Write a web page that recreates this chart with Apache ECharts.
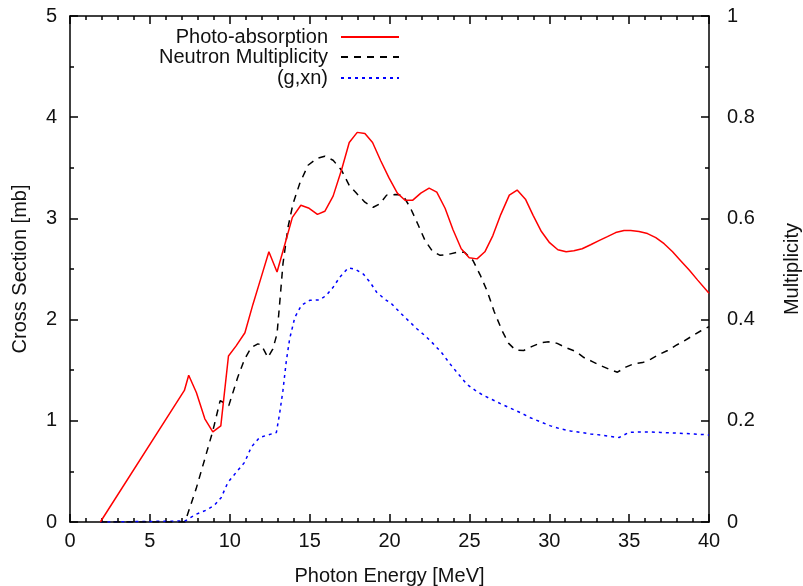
<!DOCTYPE html>
<html>
<head>
<meta charset="utf-8">
<title>Photon Energy Cross Sections</title>
<script src="https://cdn.jsdelivr.net/npm/echarts@6/dist/echarts.min.js"></script>
<style>
  html, body { margin: 0; padding: 0; background: #fff; }
  #chart { width: 803px; height: 586px; }
</style>
</head>
<body>
<div id="chart"></div>
<script>
// Photo-absorption cross section [mb] vs photon energy [MeV]
const photoE = [1.9, 7.16, 7.43, 7.91, 8.44, 8.94, 9.44, 9.92, 10.4, 10.95, 11.45, 11.97, 12.45, 12.96, 13.46, 13.92, 14.45, 14.97, 15.49, 15.95, 16.47, 17.0, 17.48, 17.98, 18.46, 18.94, 19.45, 19.97, 20.49, 20.97, 21.46, 21.96, 22.48, 22.96, 23.48, 23.97, 24.49, 24.99, 25.48, 25.97, 26.47, 26.97, 27.5, 27.99, 28.51, 28.99, 29.51, 30.02, 30.54, 31.06, 31.54, 32.06, 32.59, 33.11, 33.64, 34.16, 34.68, 35.1, 35.62, 36.15, 36.67, 37.19, 37.72, 38.24, 38.76, 39.29, 40.0];
const photoXS = [0.0, 1.30, 1.45, 1.28, 1.02, 0.89, 0.95, 1.64, 1.74, 1.87, 2.15, 2.42, 2.67, 2.47, 2.75, 3.01, 3.13, 3.10, 3.04, 3.07, 3.22, 3.48, 3.75, 3.85, 3.84, 3.75, 3.57, 3.40, 3.25, 3.18, 3.18, 3.25, 3.30, 3.26, 3.10, 2.89, 2.70, 2.61, 2.60, 2.67, 2.83, 3.04, 3.23, 3.28, 3.19, 3.03, 2.87, 2.76, 2.69, 2.67, 2.68, 2.70, 2.74, 2.78, 2.82, 2.86, 2.88, 2.88, 2.87, 2.85, 2.81, 2.75, 2.67, 2.58, 2.49, 2.39, 2.26];

// Neutron multiplicity (right axis)
const multE = [1.9, 7.2, 7.89, 8.46, 8.94, 9.4, 9.94, 10.5, 10.93, 11.35, 11.76, 11.97, 12.39, 12.7, 12.96, 13.12, 13.33, 13.65, 13.96, 14.38, 14.9, 15.43, 15.95, 16.47, 17.0, 17.48, 17.98, 18.46, 18.98, 19.4, 19.82, 20.35, 20.83, 21.29, 21.77, 22.23, 22.69, 23.17, 23.69, 24.22, 24.7, 25.22, 25.68, 26.13, 26.55, 27.05, 27.46, 27.88, 28.4, 28.93, 29.45, 29.97, 30.5, 31.02, 31.65, 32.17, 32.7, 33.22, 33.74, 34.27, 34.79, 35.31, 35.84, 36.36, 36.88, 37.41, 37.93, 38.45, 38.97, 39.5, 40.0];
const multiplicity = [0.0, 0.0, 0.065, 0.127, 0.18, 0.24, 0.23, 0.286, 0.322, 0.345, 0.352, 0.350, 0.325, 0.342, 0.372, 0.43, 0.51, 0.583, 0.629, 0.669, 0.705, 0.718, 0.723, 0.715, 0.695, 0.665, 0.648, 0.632, 0.622, 0.629, 0.646, 0.647, 0.646, 0.622, 0.589, 0.556, 0.535, 0.527, 0.529, 0.533, 0.533, 0.517, 0.488, 0.455, 0.416, 0.378, 0.353, 0.340, 0.339, 0.347, 0.354, 0.356, 0.353, 0.345, 0.337, 0.325, 0.317, 0.309, 0.302, 0.296, 0.306, 0.313, 0.315, 0.322, 0.331, 0.339, 0.349, 0.358, 0.368, 0.378, 0.386];

// (g,xn) cross section [mb]
const gxnE = [1.9, 7.2, 7.89, 8.52, 9.04, 9.46, 9.88, 10.4, 10.93, 11.35, 11.87, 12.39, 12.92, 13.12, 13.33, 13.54, 13.75, 14.07, 14.48, 15.0, 15.64, 16.05, 16.47, 16.89, 17.41, 17.83, 18.36, 18.78, 19.2, 19.72, 20.14, 20.66, 21.18, 21.71, 22.23, 22.75, 23.28, 23.8, 24.32, 24.85, 25.37, 25.89, 26.42, 26.94, 27.57, 28.2, 28.82, 29.45, 30.08, 30.71, 31.33, 31.96, 32.59, 33.22, 33.85, 34.37, 34.99, 35.62, 36.25, 36.98, 37.72, 38.45, 39.08, 40.0];
const gxnXS = [0.0, 0.01, 0.076, 0.116, 0.165, 0.24, 0.39, 0.49, 0.59, 0.74, 0.835, 0.86, 0.885, 1.07, 1.30, 1.59, 1.81, 2.02, 2.14, 2.19, 2.195, 2.24, 2.32, 2.42, 2.51, 2.50, 2.45, 2.37, 2.27, 2.20, 2.155, 2.07, 1.99, 1.91, 1.84, 1.76, 1.67, 1.56, 1.46, 1.36, 1.30, 1.25, 1.21, 1.17, 1.125, 1.08, 1.03, 0.99, 0.95, 0.92, 0.90, 0.885, 0.87, 0.86, 0.845, 0.835, 0.885, 0.89, 0.89, 0.885, 0.88, 0.875, 0.87, 0.86];

const seriesNames = ['Photo-absorption', 'Neutron Multiplicity', '(g,xn)'];

const zip = (xs, ys) => xs.map((x, i) => [x, ys[i]]);

const FONT = 'Liberation Sans, Arial, sans-serif';
const FS = 20;
const TXT = '#111';

function axisStyle(minorSplit) {
  return {
    axisLine: { show: true, onZero: false, lineStyle: { color: '#000', width: 1.5 } },
    axisTick: { show: true, inside: true, length: 8, lineStyle: { color: '#000', width: 1.5 } },
    minorTick: { show: true, splitNumber: minorSplit, length: 4, lineStyle: { color: '#000', width: 1.5 } },
    splitLine: { show: false },
    minorSplitLine: { show: false }
  };
}

function legendFor(name, top) {
  return {
    data: [name],
    orient: 'horizontal',
    right: 403,
    top: top,
    padding: 0,
    align: 'right',
    itemWidth: 58,
    itemHeight: 14,
    selectedMode: false,
    itemStyle: { opacity: 0 },
    textStyle: { fontFamily: FONT, fontSize: FS, color: TXT, padding: [0, 8, 0, 0] }
  };
}

const chart = echarts.init(document.getElementById('chart'), null, { renderer: 'canvas' });

chart.setOption({
  animation: false,
  backgroundColor: '#fff',
  grid: { left: 70, right: 94, top: 16, bottom: 64, containLabel: false, outerBoundsMode: 'none' },
  legend: [
    legendFor(seriesNames[0], 27),
    legendFor(seriesNames[1], 47),
    legendFor(seriesNames[2], 68)
  ],
  xAxis: [
    Object.assign({
      type: 'value', position: 'bottom', min: 0, max: 40, interval: 5,
      name: 'Photon Energy [MeV]', nameLocation: 'middle', nameGap: 44,
      nameTextStyle: { fontFamily: FONT, fontSize: FS, color: TXT },
      axisLabel: { fontFamily: FONT, fontSize: FS, color: TXT, margin: 9 }
    }, axisStyle(5)),
    Object.assign({
      type: 'value', position: 'top', min: 0, max: 40, interval: 5,
      axisLabel: { show: false }
    }, axisStyle(5))
  ],
  yAxis: [
    Object.assign({
      type: 'value', position: 'left', min: 0, max: 5, interval: 1,
      name: 'Cross Section [mb]', nameLocation: 'middle', nameGap: 40, nameRotate: 90,
      nameTextStyle: { fontFamily: FONT, fontSize: FS, color: TXT },
      axisLabel: { fontFamily: FONT, fontSize: FS, color: TXT, margin: 13 }
    }, axisStyle(2)),
    Object.assign({
      type: 'value', position: 'right', min: 0, max: 1, interval: 0.2,
      name: 'Multiplicity', nameLocation: 'middle', nameGap: 73, nameRotate: 90,
      nameTextStyle: { fontFamily: FONT, fontSize: FS, color: TXT },
      axisLabel: { fontFamily: FONT, fontSize: FS, color: TXT, margin: 18 }
    }, axisStyle(2))
  ],
  series: [
    {
      name: seriesNames[2], type: 'line', xAxisIndex: 0, yAxisIndex: 0, z: 2,
      data: zip(gxnE, gxnXS), showSymbol: false, symbol: 'none',
      lineStyle: { color: '#0000ff', width: 1.5, type: [3, 4] }, itemStyle: { color: '#0000ff' }
    },
    {
      name: seriesNames[1], type: 'line', xAxisIndex: 0, yAxisIndex: 1, z: 2,
      data: zip(multE, multiplicity), showSymbol: false, symbol: 'none',
      lineStyle: { color: '#000000', width: 1.5, type: [7, 6] }, itemStyle: { color: '#000000' }
    },
    {
      name: seriesNames[0], type: 'line', xAxisIndex: 0, yAxisIndex: 0, z: 3,
      data: zip(photoE, photoXS), showSymbol: false, symbol: 'none',
      lineStyle: { color: '#ff0000', width: 1.5 }, itemStyle: { color: '#ff0000' }
    }
  ]
});
</script>
</body>
</html>
